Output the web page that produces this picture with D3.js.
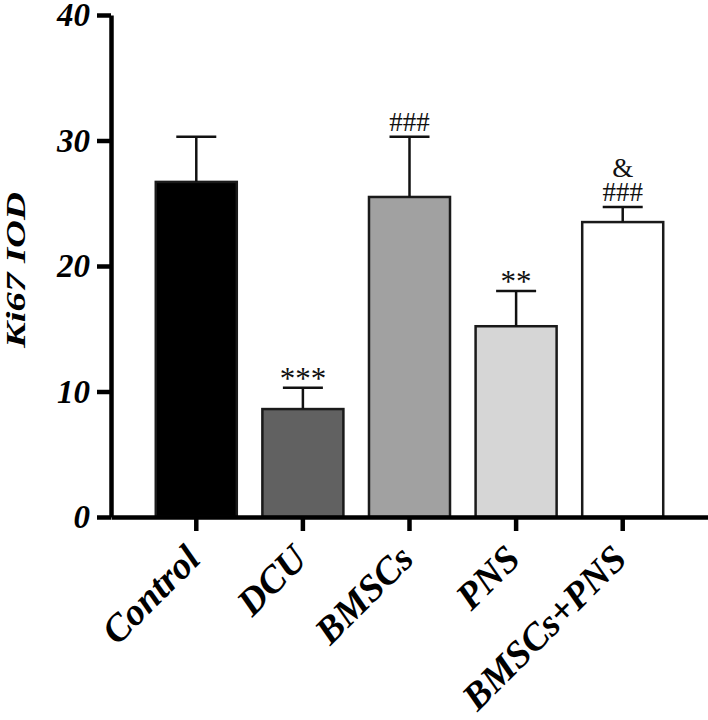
<!DOCTYPE html>
<html>
<head>
<meta charset="utf-8">
<script src="https://cdn.jsdelivr.net/npm/d3@7"></script>
<style>
  body { margin: 0; background: #fff; }
  text { font-family: "Liberation Serif", "Times New Roman", serif; }
</style>
</head>
<body>
<svg id="chart" width="708" height="720"></svg>
<script>
// data
const groups = ['Control', 'DCU', 'BMSCs', 'PNS', 'BMSCs+PNS'];
const means = [26.7, 8.6, 25.5, 15.2, 23.5];
const errTop = [30.3, 10.3, 30.3, 18.0, 24.7];
const fills = ['#000000', '#616161', '#a1a1a1', '#d6d6d6', '#ffffff'];
const marks = [[], ['***'], ['###'], ['**'], ['###', '&']];
const yTicks = [0, 10, 20, 30, 40];

const svg = d3.select('#chart');

const x = d3.scaleBand()
  .domain(groups)
  .range([111, 708])
  .paddingInner(0.24)
  .paddingOuter(0.42);

const y = d3.scaleLinear()
  .domain([0, 40])
  .range([517, 15]);

// bars
svg.selectAll('rect.bar')
  .data(groups)
  .join('rect')
  .attr('class', 'bar')
  .attr('x', d => x(d))
  .attr('y', (d, i) => y(means[i]))
  .attr('width', x.bandwidth())
  .attr('height', (d, i) => y(0) - y(means[i]))
  .attr('fill', (d, i) => fills[i])
  .attr('stroke', '#1a1a1a')
  .attr('stroke-width', 2.5);

// error bars (upper only)
const cx = d => x(d) + x.bandwidth() / 2;
svg.selectAll('line.err')
  .data(groups)
  .join('line')
  .attr('class', 'err')
  .attr('x1', cx).attr('x2', cx)
  .attr('y1', (d, i) => y(means[i]))
  .attr('y2', (d, i) => y(errTop[i]))
  .attr('stroke', '#111').attr('stroke-width', 2.5);

svg.selectAll('line.cap')
  .data(groups)
  .join('line')
  .attr('class', 'cap')
  .attr('x1', d => cx(d) - 20).attr('x2', d => cx(d) + 20)
  .attr('y1', (d, i) => y(errTop[i]))
  .attr('y2', (d, i) => y(errTop[i]))
  .attr('stroke', '#111').attr('stroke-width', 2.5);

// significance marks, stacked above the caps
groups.forEach((g, i) => {
  let base = y(errTop[i]);
  marks[i].forEach((m, k) => {
    const star = m.startsWith('*');
    const yy = k === 0 ? base + (star ? 1 : -6) : base - 24;
    base = yy;
    svg.append('text')
      .attr('x', cx(g))
      .attr('y', yy)
      .attr('text-anchor', 'middle')
      .attr('font-size', star ? 31 : 27)
      .attr('fill', '#111')
      .text(m);
  });
});

// y axis
const yAxis = svg.append('g')
  .attr('transform', 'translate(111,0)')
  .call(d3.axisLeft(y).tickValues(yTicks).tickSize(14).tickPadding(7).tickSizeOuter(0));
yAxis.select('.domain').attr('stroke', '#000').attr('stroke-width', 4.5);
yAxis.selectAll('.tick line').attr('stroke', '#000').attr('stroke-width', 4.5);
yAxis.selectAll('.tick text')
  .attr('font-family', '"Liberation Serif", serif')
  .attr('font-size', 33)
  .attr('font-weight', 'bold')
  .attr('font-style', 'italic')
  .attr('fill', '#000');

// x axis
const xAxis = svg.append('g')
  .attr('transform', `translate(0,${y(0)})`)
  .call(d3.axisBottom(x).tickSize(14).tickSizeOuter(0));
xAxis.select('.domain').attr('stroke', '#000').attr('stroke-width', 4.5);
xAxis.selectAll('.tick line').attr('stroke', '#000').attr('stroke-width', 4.5);
xAxis.selectAll('.tick text')
  .attr('font-family', '"Liberation Serif", serif')
  .attr('font-size', 38)
  .attr('font-weight', 'bold')
  .attr('font-style', 'italic')
  .attr('fill', '#000')
  .attr('text-anchor', 'end')
  .attr('x', 0)
  .attr('y', 0)
  .attr('dy', null)
  .attr('transform', 'translate(6,44) rotate(-45)');

// y title
svg.append('text')
  .attr('transform', 'translate(25,270) rotate(-90)')
  .attr('text-anchor', 'middle')
  .attr('font-size', 28)
  .attr('font-weight', 'bold')
  .attr('font-style', 'italic')
  .attr('textLength', 156)
  .attr('lengthAdjust', 'spacingAndGlyphs')
  .text('Ki67 IOD');
</script>
</body>
</html>
